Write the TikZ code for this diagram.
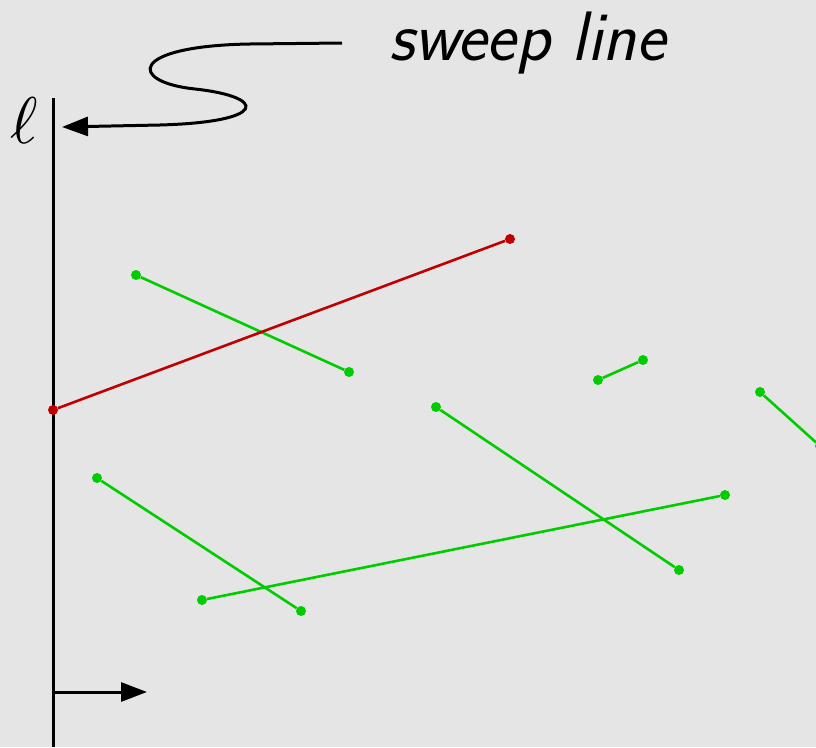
\documentclass[tikz,border=0pt]{standalone}
\usetikzlibrary{arrows.meta}
\definecolor{bg}{HTML}{E5E5E5}
\definecolor{seggreen}{HTML}{00CC00}
\definecolor{segred}{HTML}{C00000}
\tikzset{
  gdot/.style={circle,fill=seggreen,inner sep=0pt,minimum size=10pt},
  rdot/.style={circle,fill=segred,inner sep=0pt,minimum size=10pt},
  gseg/.style={seggreen,line width=2.6pt},
  rseg/.style={segred,line width=2.6pt},
  blk/.style={black,line width=3pt},
  bigtip/.style={-{Triangle[length=26pt,width=19pt]}},
}
\begin{document}
\begin{tikzpicture}[x=1pt,y=-1pt]
\useasboundingbox (0,0) rectangle (816,747);
\fill[bg] (0,0) rectangle (816,747);
\begin{scope}
\clip (0,0) rectangle (816,747);
% sweep line
\coordinate (ltop) at (53,98);
\coordinate (lbot) at (53,747);
\draw[blk] (ltop) -- (lbot);
\node[inner sep=0pt] (ell) at (24,121) {\scalebox{6.6}{$\ell$}};
% direction arrow
\coordinate (dirs) at (53,692);
\coordinate (dire) at (147,692);
\draw[blk,bigtip] (dirs) -- (dire);
% label
\node[anchor=base west,inner sep=0pt,font=\fontsize{70}{74}\selectfont\sffamily\itshape] (lbl) at (389,60) {sweep line};
\coordinate (cs) at (342,43);
\coordinate (ce) at (62,127);
\draw[blk,bigtip] (cs) -- (250,44) .. controls (128,46) and (128,82) .. (195,89)
   .. controls (268,97) and (268,122) .. (160,125) -- (ce);
% segments
\node[gdot] (a1) at (136,275) {}; \node[gdot] (b1) at (349,372) {};
\node[rdot] (a2) at (53,410) {};  \node[rdot] (b2) at (510,239) {};
\node[gdot] (a3) at (598,380) {}; \node[gdot] (b3) at (643,360) {};
\node[gdot] (a4) at (760,392) {}; \node[gdot] (b4) at (820,446) {};
\node[gdot] (a5) at (436,407) {}; \node[gdot] (b5) at (679,570) {};
\node[gdot] (a6) at (97,478) {};  \node[gdot] (b6) at (301,611) {};
\node[gdot] (a7) at (202,600) {}; \node[gdot] (b7) at (725,495) {};
\draw[gseg] (a1) -- (b1);
\draw[rseg] (a2) -- (b2);
\draw[gseg] (a3) -- (b3);
\draw[gseg] (a4) -- (b4);
\draw[gseg] (a5) -- (b5);
\draw[gseg] (a6) -- (b6);
\draw[gseg] (a7) -- (b7);
\end{scope}
\end{tikzpicture}
\end{document}
